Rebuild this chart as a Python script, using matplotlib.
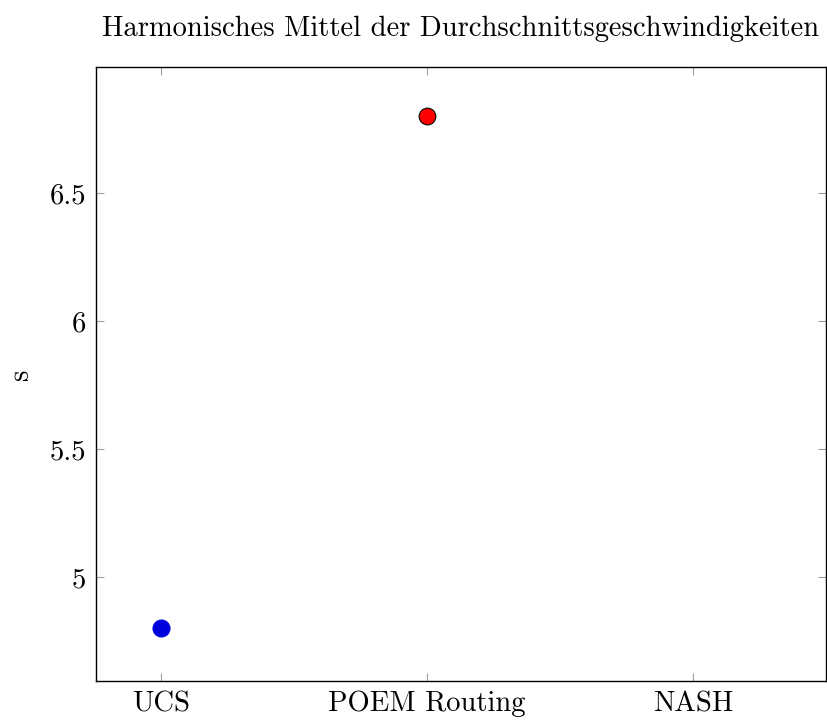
import numpy as np
import matplotlib.pyplot as plt

# harmonic mean of the average speeds per routing method
methods = ['UCS', 'POEM Routing', 'NASH']
ucs_value = 4.8
poem_value = 6.8

plt.rcParams['font.family'] = 'cmr10'
plt.rcParams['mathtext.fontset'] = 'cm'
plt.rcParams['axes.formatter.use_mathtext'] = True

fig = plt.figure(figsize=(8.27, 7.2), dpi=100)
ax = fig.add_axes([96 / 827, 1 - 681 / 720, 730 / 827, 614 / 720])

x = np.arange(len(methods))
ax.plot(x[0], ucs_value, 'o', color='#0000dd', markeredgecolor='#0000dd',
        markersize=12, zorder=3)
ax.plot(x[1], poem_value, 'o', color='red', markeredgecolor='black',
        markeredgewidth=0.8, markersize=12, zorder=3)

ax.set_xlim(-0.244, 2.5)
ax.set_ylim(4.594, 6.992)
ax.set_xticks(x)
ax.set_xticklabels(methods)
yt = [5, 5.5, 6, 6.5]
ax.set_yticks(yt)
ax.set_yticklabels(['5', '5.5', '6', '6.5'])

ax.tick_params(direction='in', length=6, width=0.8, color='#a0a0a0',
               top=True, right=True, labelsize=20.6, pad=7)
for s in ax.spines.values():
    s.set_linewidth(1.0)

ax.set_ylabel('s', fontsize=20.6)
ax.yaxis.set_label_coords(-0.085, 0.5)
ax.set_title('Harmonisches Mittel der Durchschnittsgeschwindigkeiten',
             fontsize=20.6, pad=22)

fig.savefig('out.png', dpi=100)
